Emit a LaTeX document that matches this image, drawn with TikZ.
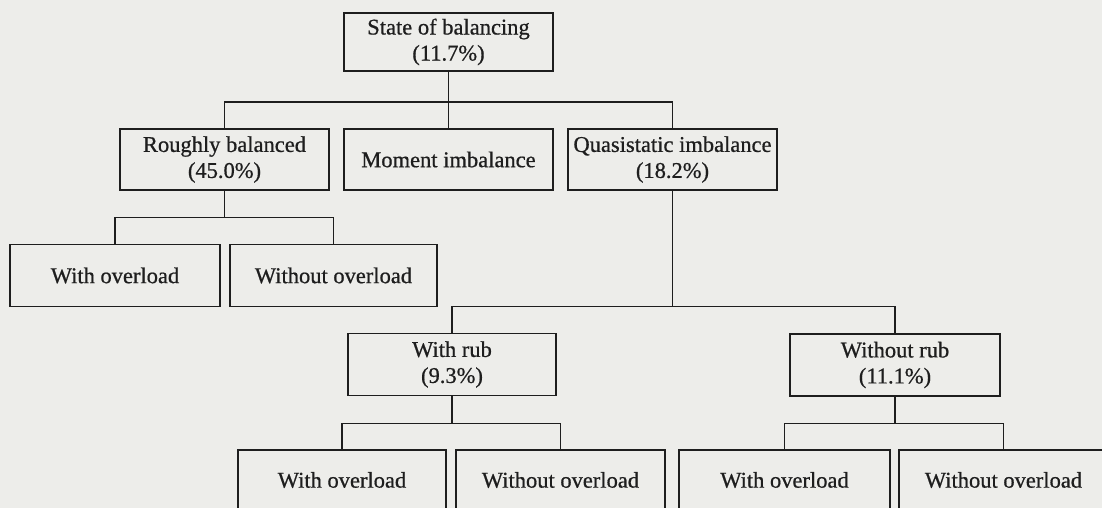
\documentclass[tikz,border=0pt]{standalone}
\usepackage{fontspec}
\setmainfont{Liberation Serif}
\newfontfamily\boxfont{Liberation Serif}[FakeBold=0.7]
\usetikzlibrary{calc}
\definecolor{paper}{RGB}{237,237,234}
\definecolor{ink}{RGB}{30,30,30}
\begin{document}
\begin{tikzpicture}[x=1pt,y=-1pt,
  box/.style={draw=ink, line width=1.2pt, minimum width=209pt, minimum height=61pt,
    inner sep=0pt, align=center, text=ink, font=\boxfont\fontsize{22.5}{26}\selectfont},
  link/.style={draw=ink, line width=1.2pt}]
\fill[paper] (0,0) rectangle (1102,508);
\useasboundingbox (0,0) rectangle (1102,508);
\clip (0,0) rectangle (1102,508);

% top level
\node[box, minimum height=58pt] (root) at (448.5,42) {State of balancing\\(11.7\%)};

% first split
\node[box] (rough)  at (224.5,159.5) {Roughly balanced\\(45.0\%)};
\node[box] (moment) at (448.5,159.5) {Moment imbalance};
\node[box] (quasi)  at (672.5,159.5) {Quasistatic imbalance\\(18.2\%)};

% roughly balanced branch
\node[box, minimum width=210pt, minimum height=62pt] (lwith)    at (115,275.5)   {With overload};
\node[box, minimum width=207pt, minimum height=62pt] (lwithout) at (333.5,275.5) {Without overload};

% quasistatic branch
\node[box, minimum width=208pt, minimum height=62pt] (rub)   at (452,364.5) {With rub\\(9.3\%)};
\node[box, minimum width=210pt, minimum height=62pt] (norub) at (895,365)   {Without rub\\(11.1\%)};

% overload split under each rub case
\node[box, minimum width=208pt, minimum height=60pt] (rwith)     at (342,480)    {With overload};
\node[box, minimum width=209pt, minimum height=60pt] (rwithout)  at (560.5,480)  {Without overload};
\node[box, minimum width=211pt, minimum height=60pt] (nwith)     at (784.5,480)  {With overload};
\node[box, minimum width=209pt, minimum height=60pt] (nwithout)  at (1003.5,480) {Without overload};

% connectors
\coordinate (j0) at ($(root.south)+(0,30.5)$);
\draw[link] (root.south) -- (j0);
\draw[link] (j0) -| (rough.north);
\draw[link] (j0) -- (moment.north);
\draw[link] (j0) -| (quasi.north);

\coordinate (j1) at ($(rough.south)+(0,27)$);
\draw[link] (rough.south) -- (j1);
\draw[link] (j1) -| (lwith.north);
\draw[link] (j1) -| (lwithout.north);

\coordinate (j2) at ($(quasi.south)+(0,116)$);
\draw[link] (quasi.south) -- (j2);
\draw[link] (j2) -| (rub.north);
\draw[link] (j2) -| (norub.north);

\coordinate (j3) at ($(rub.south)+(0,27)$);
\draw[link] (rub.south) -- (j3);
\draw[link] (j3) -| (rwith.north);
\draw[link] (j3) -| (rwithout.north);

\coordinate (j4) at ($(norub.south)+(0,26.5)$);
\draw[link] (norub.south) -- (j4);
\draw[link] (j4) -| (nwith.north);
\draw[link] (j4) -| (nwithout.north);
\end{tikzpicture}
\end{document}
